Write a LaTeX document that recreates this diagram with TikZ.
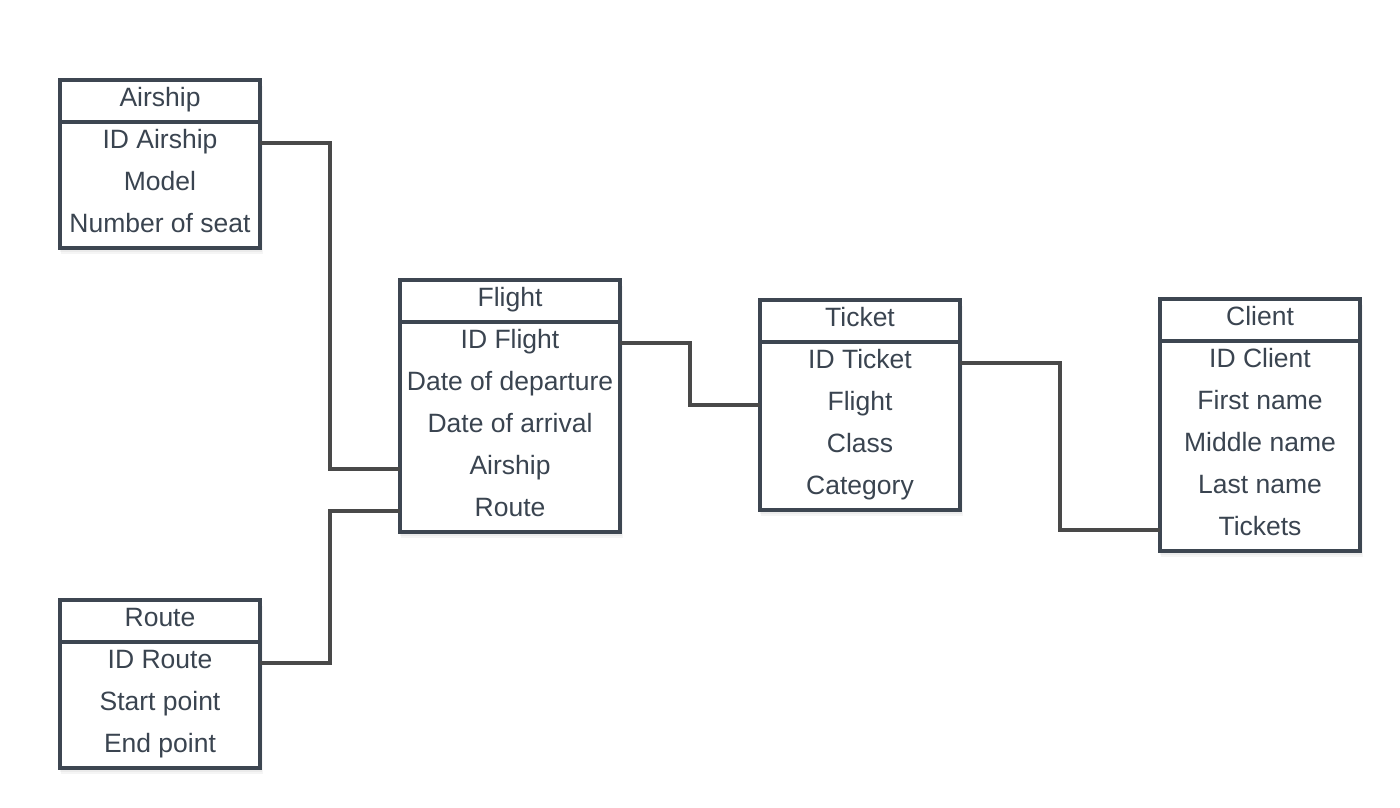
\documentclass[tikz,border=0pt]{standalone}
\usepackage{fontspec}
\setmainfont{Liberation Sans}
\usetikzlibrary{calc}
\definecolor{boxcol}{HTML}{3D4651}
\definecolor{txtcol}{HTML}{3A4450}
\definecolor{linkcol}{HTML}{494949}
\tikzset{
  ercell/.style={rectangle, inner sep=0pt, outer sep=0pt, minimum height=42pt,
    text height=26.3pt, text depth=15.7pt, text=txtcol,
    font=\fontsize{26.5}{30}\selectfont},
  erframe/.style={draw=boxcol, line width=3.8pt},
  ershadow/.style={fill=black, opacity=0.04},
  erlink/.style={draw=linkcol, line width=3.8pt},
}
% #1 name, #2 left, #3 top, #4 width, #5 title, #6 rows, #7 number of rows
\newcommand\erentity[7]{%
  \foreach \s in {2,4,6}{%
    \fill[ershadow] ({#2-2+\s/2},{#3+\s}) rectangle ({#2+#4+\s/2},{#3+42*(#7+1)+\s});
  }
  \fill[white] (#2,#3) rectangle ({#2+#4},{#3+42*(#7+1)});
  \node[ercell, minimum width=#4pt, anchor=north west] (#1) at (#2,#3) {#5};
  \foreach \r [count=\i] in {#6}{%
    \node[ercell, minimum width=#4pt, anchor=north west] (#1-\i) at (#2,{#3+42*\i}) {\r};
  }
  \draw[erframe] (#2,#3) rectangle ({#2+#4},{#3+42*(#7+1)});
  \draw[erframe] (#2,{#3+42}) -- ({#2+#4},{#3+42});
}
\begin{document}
\begin{tikzpicture}[x=1pt,y=-1pt]
\useasboundingbox[fill=white] (0,0) rectangle (1400,808);
\erentity{air}{60}{80}{200}{Airship}{ID Airship,Model,Number of seat}{3}
\erentity{rt}{60}{600}{200}{Route}{ID Route,Start point,End point}{3}
\erentity{fl}{400}{280}{220}{Flight}{ID Flight,Date of departure,Date of arrival,Airship,Route}{5}
\erentity{tk}{760}{300}{200}{Ticket}{ID Ticket,Flight,Class,Category}{4}
\erentity{cl}{1160}{299}{200}{Client}{ID Client,First name,Middle name,Last name,Tickets}{5}
\draw[erlink] (air-1.east) -| ($(air-1.east)!.5!(fl-4.west)$) |- (fl-4.west);
\draw[erlink] (rt-1.east) -| ($(rt-1.east)!.5!(fl-5.west)$) |- (fl-5.west);
\draw[erlink] (fl-1.east) -| ($(fl-1.east)!.5!(tk-2.west)$) |- (tk-2.west);
\draw[erlink] (tk-1.east) -| ($(tk-1.east)!.5!(cl-5.west)$) |- (cl-5.west);
\end{tikzpicture}
\end{document}
